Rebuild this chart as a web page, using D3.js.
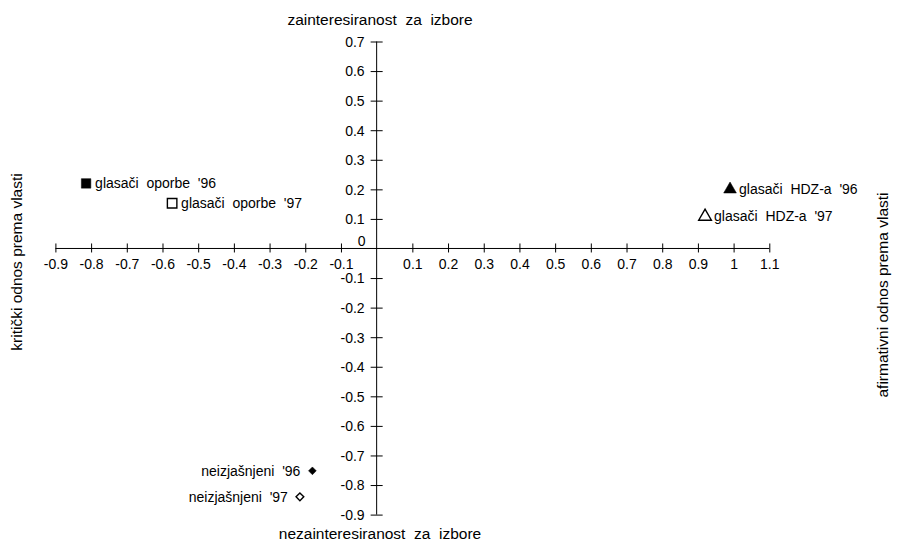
<!DOCTYPE html>
<html><head><meta charset="utf-8">
<script src="https://cdn.jsdelivr.net/npm/d3@7"></script>
<style>
body{margin:0;background:#fff;}
text{font-family:"Liberation Sans",Arial,sans-serif;fill:#000;white-space:pre;}
</style></head>
<body><svg id="c" width="902" height="545"></svg>
<script>
const labels = ["glasači  oporbe  '96","glasači  oporbe  '97","glasači  HDZ-a  '96","glasači  HDZ-a  '97","neizjašnjeni  '96","neizjašnjeni  '97"];
const xVals = [-0.814,-0.573,0.99,0.92,-0.18,-0.215];
const yVals = [0.22,0.153,0.20,0.108,-0.752,-0.84];
const shapes = ["square","square","triangle","triangle","diamond","diamond"];
const filled = [true,false,true,false,true,false];
const xTicks = [-0.9,-0.8,-0.7,-0.6,-0.5,-0.4,-0.3,-0.2,-0.1,0.1,0.2,0.3,0.4,0.5,0.6,0.7,0.8,0.9,1,1.1];
const yTicks = [0.7,0.6,0.5,0.4,0.3,0.2,0.1,0,-0.1,-0.2,-0.3,-0.4,-0.5,-0.6,-0.7,-0.8,-0.9];

const svg = d3.select("#c");
const x = d3.scaleLinear().domain([-0.9,1.1]).range([55.4,769.3]);
const y = d3.scaleLinear().domain([-0.9,0.7]).range([514.6,41.5]);
const FF = "Liberation Sans, Arial, sans-serif";

// x axis
const gx = svg.append("g").attr("transform",`translate(0,${y(0)})`)
  .call(d3.axisBottom(x).tickValues(xTicks).tickSize(0).tickPadding(0)
    .tickFormat(d=>String(d)));
gx.select(".domain").attr("d",`M${x(-0.9)},0H${x(1.1)}`).attr("stroke","#000");
gx.selectAll(".tick line").attr("y1",-5).attr("y2",4).attr("stroke","#000");
gx.selectAll(".tick text").attr("y",21).attr("dy",0).attr("font-size",14)
  .style("font-family",FF);

// y axis
const gy = svg.append("g").attr("transform",`translate(${x(0)},0)`)
  .call(d3.axisLeft(y).tickValues(yTicks).tickSize(0).tickPadding(0)
    .tickFormat(d=>String(d)));
gy.select(".domain").attr("d",`M0,${y(0.7)}V${y(-0.9)}`).attr("stroke","#000");
gy.selectAll(".tick line").attr("x1",-6).attr("x2",6).attr("stroke","#000")
  .filter(d=>d===0).remove();
gy.selectAll(".tick text").attr("x",-12).attr("dy","0.35em").attr("font-size",14)
  .style("font-family",FF);
gy.selectAll(".tick").filter(d=>d===0).select("text").attr("x",-11).attr("y",-8);

// axis titles
svg.append("text").attr("x",380).attr("y",25).attr("text-anchor","middle").attr("font-size",15.5)
  .text("zainteresiranost  za  izbore");
svg.append("text").attr("x",380).attr("y",539).attr("text-anchor","middle").attr("font-size",15.5)
  .text("nezainteresiranost  za  izbore");
svg.append("text").attr("transform","translate(22,262) rotate(-90)").attr("text-anchor","middle").attr("font-size",15.5)
  .text("kritički odnos prema vlasti");
svg.append("text").attr("transform","translate(888,295) rotate(-90)").attr("text-anchor","middle").attr("font-size",15.5)
  .text("afirmativni odnos prema vlasti");

// points
const symMap = {square:d3.symbolSquare, triangle:d3.symbolTriangle, diamond:d3.symbolSquare};
const sizeMap = {square:90, triangle:70, diamond:30};
const data = labels.map((l,i)=>({l,x:xVals[i],y:yVals[i],s:shapes[i],f:filled[i]}));
const pts = svg.append("g").selectAll("g").data(data).join("g")
  .attr("transform",d=>`translate(${x(d.x)},${y(d.y)})`);
pts.append("path").attr("d",d=>d3.symbol(symMap[d.s], sizeMap[d.s])())
  .attr("transform",d=>d.s==="diamond"?"rotate(45)":null)
  .attr("fill",d=>d.f?"#000":"#fff").attr("stroke","#000").attr("stroke-width",d=>d.f?0.5:1.4);
pts.append("text").attr("font-size",14).attr("dy","0.35em")
  .attr("x",d=>d.s==="diamond"?-12:9)
  .attr("text-anchor",d=>d.s==="diamond"?"end":"start")
  .text(d=>d.l);
</script></body></html>
